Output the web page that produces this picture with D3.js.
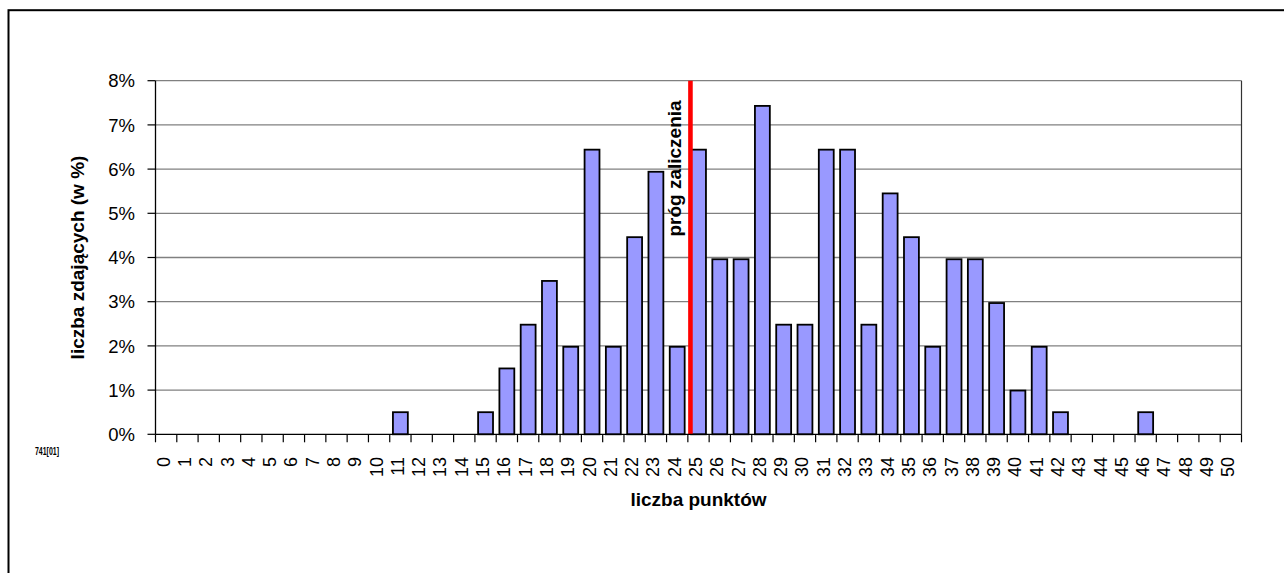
<!DOCTYPE html>
<html>
<head>
<meta charset="utf-8">
<script src="https://cdn.jsdelivr.net/npm/d3@7"></script>
<style>
  html, body { margin: 0; padding: 0; background: #fff; }
  svg { display: block; }
  text { font-family: "Liberation Sans", Arial, sans-serif; }
</style>
</head>
<body>
<svg id="chart" width="1284" height="573"></svg>
<script>
// ---- data ----
const categories = d3.range(0, 51).map(String);           // liczba punktów 0..50
const percentValues = [                                     // liczba zdających (w %)
  0, 0, 0, 0, 0, 0, 0, 0, 0, 0,
  0, 0.50, 0, 0, 0, 0.50, 1.49, 2.48, 3.47, 1.98,
  6.44, 1.98, 4.46, 5.94, 1.98, 6.44, 3.96, 3.96, 7.43, 2.48,
  2.48, 6.44, 6.44, 2.48, 5.45, 4.46, 1.98, 3.96, 3.96, 2.97,
  0.99, 1.98, 0.50, 0, 0, 0, 0.50, 0, 0, 0,
  0
];
const yTicks = [0, 1, 2, 3, 4, 5, 6, 7, 8];
const yTickLabels = yTicks.map(v => v + "%");
const thresholdCategory = "25";
const thresholdLabel = "próg zaliczenia";
const xTitle = "liczba punktów";
const yTitle = "liczba zdających (w %)";
const codeLabel = "741[01]";

// ---- layout ----
const svg = d3.select("#chart");
const plot = { left: 155.5, right: 1241.5, top: 80.7, bottom: 434.3 };

const x = d3.scaleBand()
  .domain(categories)
  .range([plot.left, plot.right])
  .paddingInner(0.3)
  .paddingOuter(0.15);
const y = d3.scaleLinear().domain([0, 8]).range([plot.bottom, plot.top]);

const step = x.step();
const gap = (step - x.bandwidth()) / 2;
const boundaries = categories.map(c => x(c) - gap).concat([x(categories[categories.length - 1]) + x.bandwidth() + gap]);

// outer frame
svg.append("rect")
  .attr("x", 8.5).attr("y", 10.2)
  .attr("width", 1400).attr("height", 700)
  .attr("fill", "none").attr("stroke", "#000").attr("stroke-width", 2);

// gridlines
svg.append("g").selectAll("line").data(yTicks.slice(1)).join("line")
  .attr("x1", plot.left).attr("x2", plot.right)
  .attr("y1", d => y(d)).attr("y2", d => y(d))
  .attr("stroke", "#808080").attr("stroke-width", 1.3);

// right border of plot
svg.append("line")
  .attr("x1", plot.right).attr("x2", plot.right)
  .attr("y1", y(8)).attr("y2", y(0))
  .attr("stroke", "#333").attr("stroke-width", 1.2);

// bars
svg.append("g").selectAll("rect")
  .data(categories.map((c, i) => ({ c, v: percentValues[i] })).filter(d => d.v > 0))
  .join("rect")
  .attr("x", d => x(d.c))
  .attr("y", d => y(d.v))
  .attr("width", x.bandwidth())
  .attr("height", d => y(0) - y(d.v))
  .attr("fill", "#9999FF")
  .attr("stroke", "#000")
  .attr("stroke-width", 1.8);

// threshold line
const tx = x(thresholdCategory) - 0.6;
svg.append("line")
  .attr("x1", tx).attr("x2", tx)
  .attr("y1", y(8)).attr("y2", y(0))
  .attr("stroke", "#FF0000").attr("stroke-width", 4.6);

svg.append("text")
  .attr("transform", `translate(${tx - 9},${(y(8) + y(0)) / 2 - 89}) rotate(-90)`)
  .attr("text-anchor", "middle")
  .attr("font-size", 19)
  .attr("font-weight", "bold")
  .attr("fill", "#000")
  .text(thresholdLabel);

// y axis
const yAxis = svg.append("g");
yAxis.append("line")
  .attr("x1", plot.left).attr("x2", plot.left)
  .attr("y1", y(8)).attr("y2", y(0))
  .attr("stroke", "#000").attr("stroke-width", 1.3);
yAxis.selectAll("line.tick").data(yTicks).join("line")
  .attr("class", "tick")
  .attr("x1", plot.left - 8).attr("x2", plot.left)
  .attr("y1", d => y(d)).attr("y2", d => y(d))
  .attr("stroke", "#000").attr("stroke-width", 1.2);
yAxis.selectAll("text").data(yTicks).join("text")
  .attr("x", 135).attr("y", d => y(d))
  .attr("dy", "0.36em")
  .attr("text-anchor", "end")
  .attr("font-size", 18.5)
  .attr("fill", "#000")
  .text((d, i) => yTickLabels[i]);

// x axis
const xAxis = svg.append("g");
xAxis.append("line")
  .attr("x1", plot.left).attr("x2", plot.right)
  .attr("y1", y(0)).attr("y2", y(0))
  .attr("stroke", "#000").attr("stroke-width", 1.3);
xAxis.selectAll("line.tick").data(boundaries).join("line")
  .attr("class", "tick")
  .attr("x1", d => d).attr("x2", d => d)
  .attr("y1", y(0)).attr("y2", y(0) + 8)
  .attr("stroke", "#000").attr("stroke-width", 1.2);
xAxis.selectAll("text").data(categories).join("text")
  .attr("transform", d => `translate(${x(d) + x.bandwidth() / 2 - 3},457) rotate(-90)`)
  .attr("dy", "0.36em")
  .attr("text-anchor", "end")
  .attr("font-size", 18)
  .attr("fill", "#000")
  .text(d => d);

// axis titles
svg.append("text")
  .attr("x", (plot.left + plot.right) / 2).attr("y", 506)
  .attr("text-anchor", "middle")
  .attr("font-size", 19)
  .attr("font-weight", "bold")
  .text(xTitle);

svg.append("text")
  .attr("transform", `translate(84,${(plot.top + plot.bottom) / 2}) rotate(-90)`)
  .attr("text-anchor", "middle")
  .attr("font-size", 19)
  .attr("font-weight", "bold")
  .text(yTitle);

// code label
svg.append("text")
  .attr("x", 35).attr("y", 455)
  .attr("font-size", 11.5)
  .attr("font-weight", "bold")
  .attr("textLength", 24)
  .attr("lengthAdjust", "spacingAndGlyphs")
  .text(codeLabel);
</script>
</body>
</html>
